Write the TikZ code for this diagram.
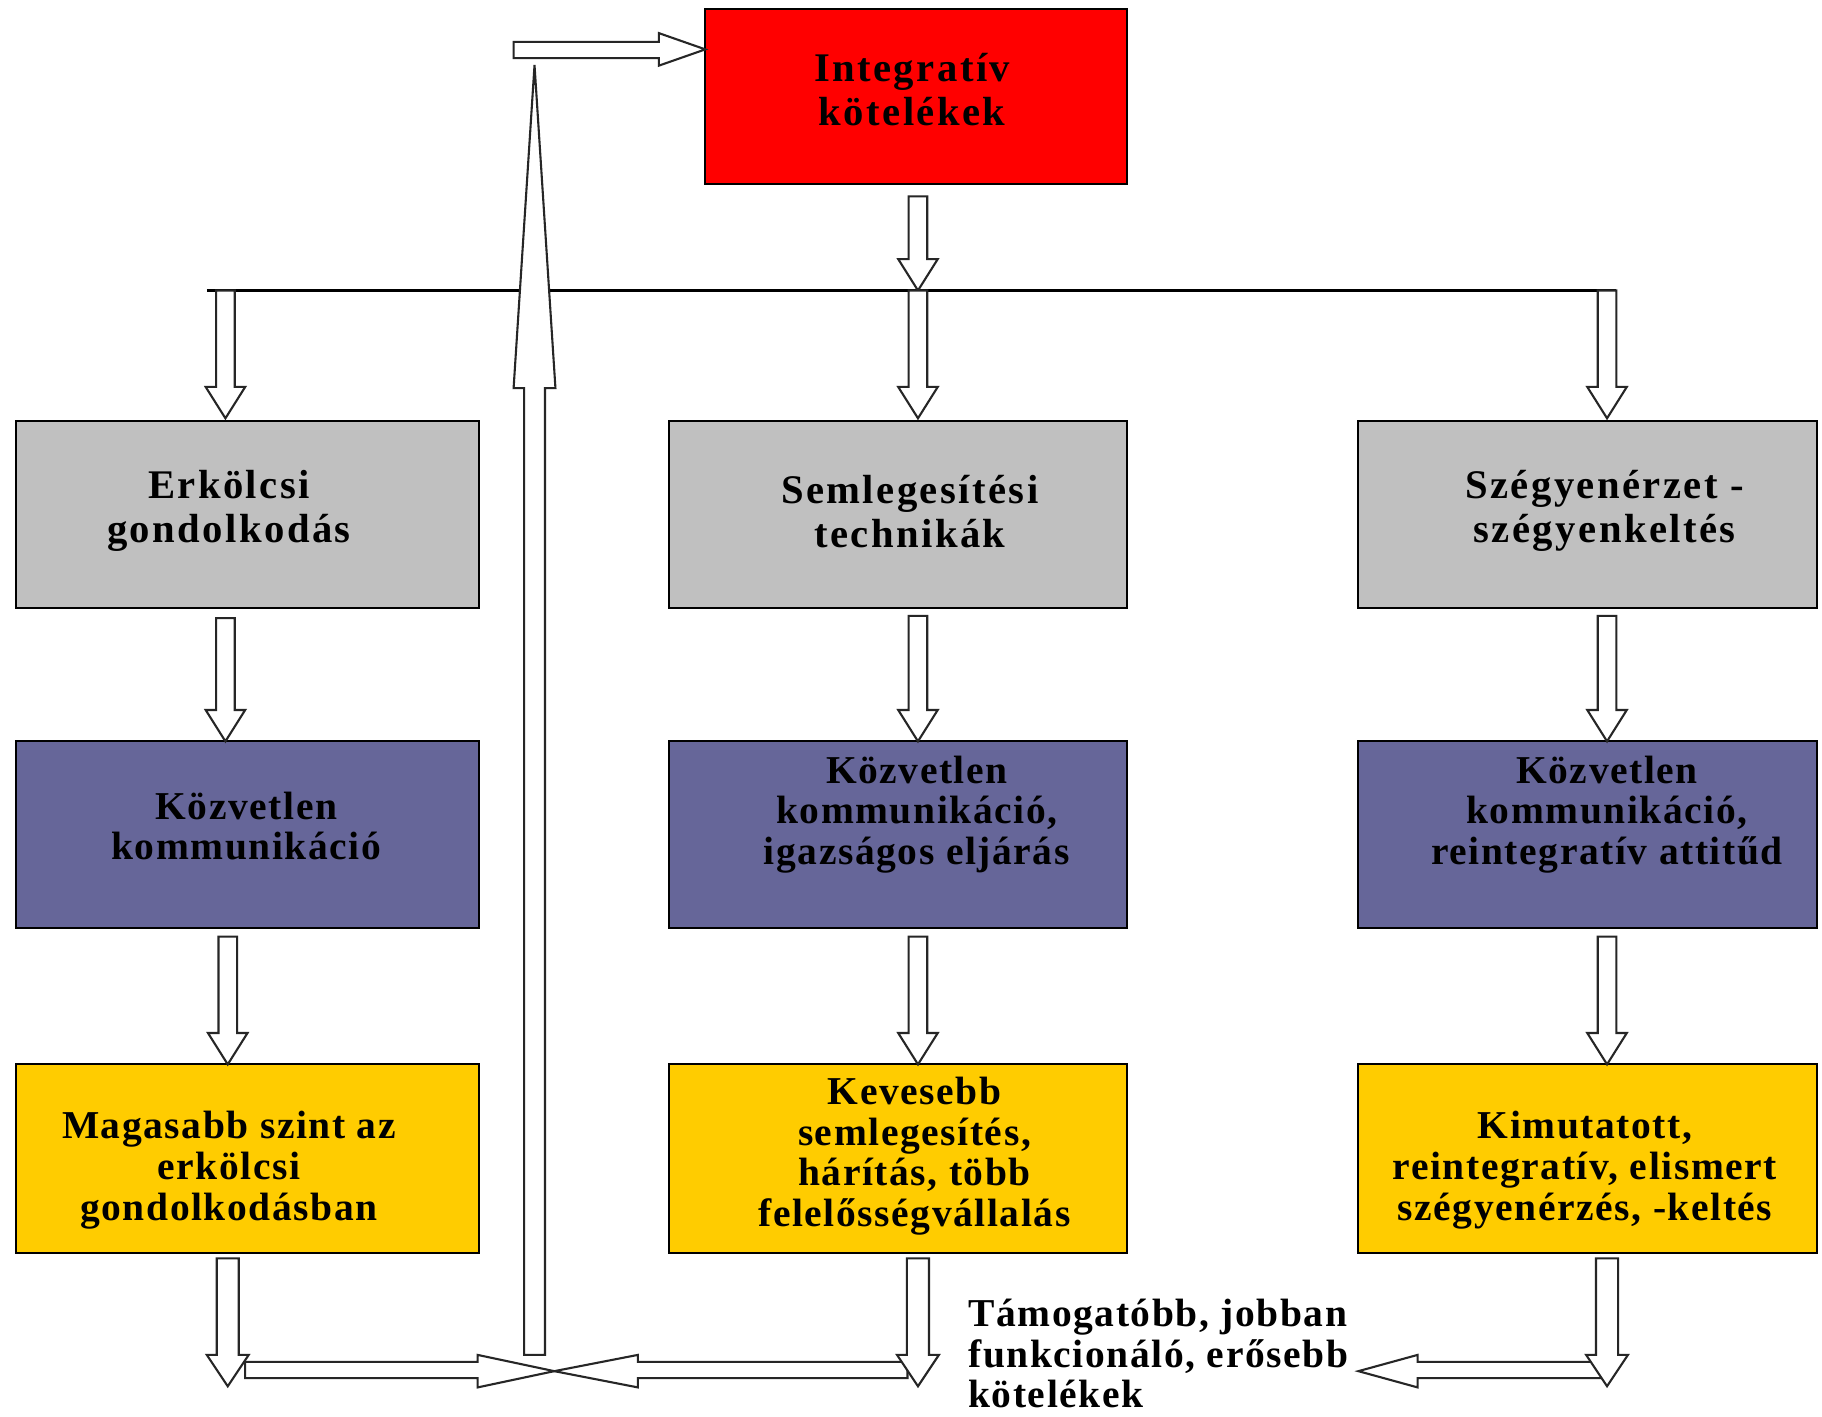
\documentclass[tikz,border=0pt]{standalone}
\usepackage{fontspec}
\setmainfont{Liberation Serif}
\newfontfamily\boxfont[LetterSpace=4]{Liberation Serif}
\newfontfamily\bigfont[LetterSpace=6]{Liberation Serif}
\definecolor{redc}{HTML}{FF0000}
\definecolor{grayc}{HTML}{C0C0C0}
\definecolor{purc}{HTML}{666699}
\definecolor{yelc}{HTML}{FFCC00}
% vertical block arrow: x, y top, y tip
\newcommand\arrD[3]{\draw[blk] (#1-8,#2) -- (#1+8,#2) -- (#1+8,#3-27) -- (#1+17,#3-27) -- (#1,#3) -- (#1-17,#3-27) -- (#1-8,#3-27) -- cycle;}
\newcommand\arrDb[3]{\draw[blk] (#1-9.5,#2) -- (#1+9.5,#2) -- (#1+9.5,#3-27) -- (#1+18,#3-27) -- (#1,#3) -- (#1-18,#3-27) -- (#1-9.5,#3-27) -- cycle;}
\begin{document}
\begin{tikzpicture}[x=0.5pt,y=-0.5pt,
  box/.style={draw=black,line width=0.9pt,inner sep=0pt,outer sep=0pt},
  txt/.style={font=\boxfont\fontsize{17}{17.5}\selectfont\bfseries,align=center,inner sep=0pt},
  gtxt/.style={font=\bigfont\fontsize{17.5}{19}\selectfont\bfseries,align=center,inner sep=0pt},
  blk/.style={draw=black!85,line width=0.9pt,fill=white,line join=miter}]
\useasboundingbox[fill=white] (0,0) rectangle (1568,1219);

% boxes
\node[box,fill=redc,minimum width=181.5pt,minimum height=75pt] (red) at (788.5,83) {};
\node[box,fill=grayc,minimum width=199pt,minimum height=80.5pt] (g1) at (213,442.5) {};
\node[box,fill=grayc,minimum width=197pt,minimum height=80.5pt] (g2) at (773,442.5) {};
\node[box,fill=grayc,minimum width=197.5pt,minimum height=80.5pt] (g3) at (1366.5,442.5) {};
\node[box,fill=purc,minimum width=199pt,minimum height=80.5pt] (p1) at (213,718.5) {};
\node[box,fill=purc,minimum width=197pt,minimum height=80.5pt] (p2) at (773,718.5) {};
\node[box,fill=purc,minimum width=197.5pt,minimum height=80.5pt] (p3) at (1366.5,718.5) {};
\node[box,fill=yelc,minimum width=199pt,minimum height=81pt] (y1) at (213,997) {};
\node[box,fill=yelc,minimum width=197pt,minimum height=81pt] (y2) at (773,997) {};
\node[box,fill=yelc,minimum width=197.5pt,minimum height=81pt] (y3) at (1366.5,997) {};

% texts
\node[gtxt] (tred) at (785,77) {Integratív\\kötelékek};
\node[gtxt] (tg1) at (197,440) {Erkölcsi\\gondolkodás};
\node[gtxt] (tg2) at (783,440) {Semlegesítési\\technikák};
\node[gtxt] (tg3) at (1381,440) {Szégyenérzet -\\szégyenkeltés};
\node[txt] (tp1) at (212,711) {Közvetlen\\kommunikáció};
\node[txt] (tp2) at (789,701) {Közvetlen\\kommunikáció,\\igazságos eljárás};
\node[txt] (tp3) at (1383,701) {Közvetlen\\kommunikáció,\\reintegratív attitűd};
\node[txt] (ty1) at (197,1007) {Magasabb szint az\\erkölcsi\\gondolkodásban};
\node[txt] (ty2) at (787,995) {Kevesebb\\semlegesítés,\\hárítás, több\\felelősségvállalás};
\node[txt] (ty3) at (1364,1007) {Kimutatott,\\reintegratív, elismert\\szégyenérzés, -keltés};
\node[txt,align=left,anchor=west] (tb) at (833,1165) {Támogatóbb, jobban\\funkcionáló, erősebb\\kötelékek};

% distribution line
\coordinate (la) at (178,250);
\coordinate (lb) at (1391,250);
\draw[line width=0.9pt] (la) -- (lb);

% top arrows
\arrD{790}{169}{250}
\arrD{194}{250}{360}
\arrD{790}{250}{360}
\arrD{1383}{250}{360}

% between rows
\arrD{194}{532}{638}
\arrD{790}{530}{638}
\arrD{1383}{530}{638}
\arrD{196}{806}{916}
\arrD{790}{806}{916}
\arrD{1383}{806}{916}

% feedback up arrow
\draw[blk] (451,1166) -- (469,1166) -- (469,334) -- (478,334) -- (460,56) -- (442,334) -- (451,334) -- cycle;
% arrow into red box
\draw[blk] (442,36) -- (567,36) -- (567,28.5) -- (607,42.5) -- (567,56.5) -- (567,50) -- (442,50) -- cycle;

% bottom horizontal arrows
\draw[blk] (211,1172) -- (411,1172) -- (411,1166) -- (477,1180) -- (411,1194) -- (411,1186) -- (211,1186) -- cycle;
\draw[blk] (781,1172) -- (549,1172) -- (549,1166) -- (477,1180) -- (549,1194) -- (549,1186) -- (781,1186) -- cycle;
\draw[blk] (1378,1172) -- (1220,1172) -- (1220,1166) -- (1169,1180) -- (1220,1194) -- (1220,1186) -- (1378,1186) -- cycle;

% bottom down arrows
\arrDb{196}{1083}{1193}
\arrDb{790}{1083}{1193}
\arrDb{1383}{1083}{1193}
\end{tikzpicture}
\end{document}
